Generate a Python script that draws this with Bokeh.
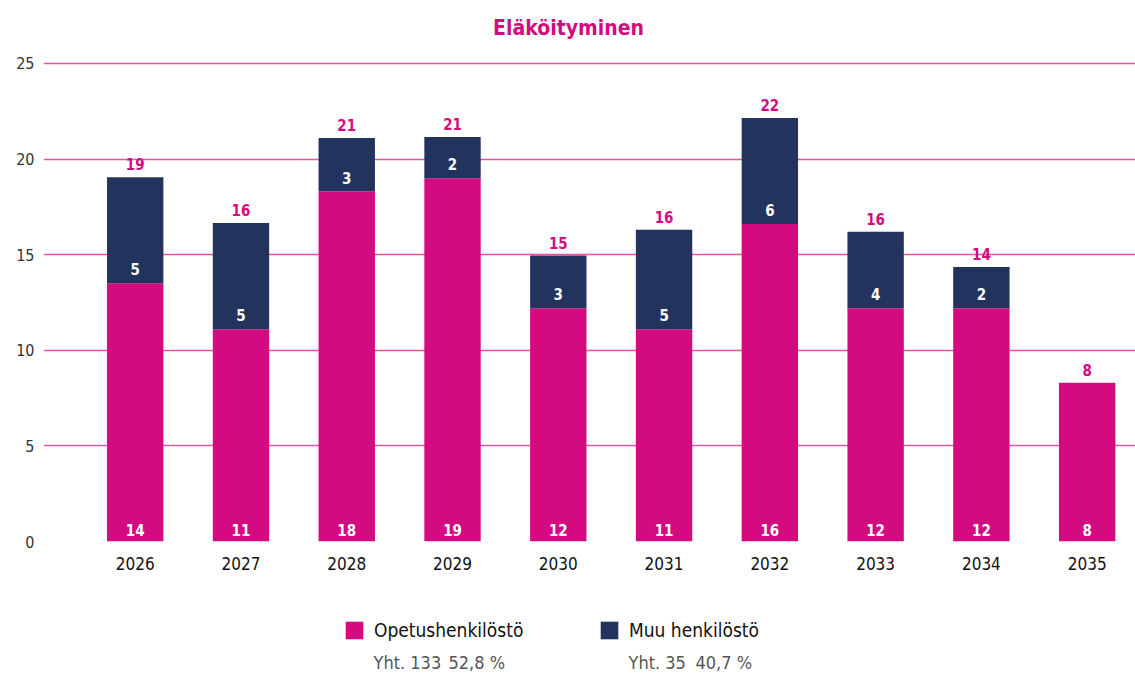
from bokeh.plotting import figure
from bokeh.layouts import column
from bokeh.models import (Range1d, FixedTicker, Legend, LegendItem, Label,
                          ColumnDataSource)
from bokeh.core.properties import value
from bokeh.embed import file_html
from bokeh.resources import INLINE

# ---- data ----
years = ["2026", "2027", "2028", "2029", "2030", "2031", "2032", "2033", "2034", "2035"]
opetus = [13.5, 11.1, 18.3, 19.0, 12.2, 11.1, 16.6, 12.2, 12.2, 8.3]
muu = [5.55, 5.55, 2.8, 2.15, 2.75, 5.2, 5.55, 4.0, 2.15, 0.0]
opetus_labels = ["14", "11", "18", "19", "12", "11", "16", "12", "12", "8"]
muu_labels = ["5", "5", "3", "2", "3", "5", "6", "4", "2", ""]
total_labels = ["19", "16", "21", "21", "15", "16", "22", "16", "14", "8"]
y_ticks = [0, 5, 10, 15, 20, 25]
legend_names = ["Opetushenkilöstö", "Muu henkilöstö"]
legend_sub_count = ["Yht. 133", "Yht. 35"]
legend_sub_pct = ["52,8 %", "40,7 %"]
title_text = "Eläköityminen"

PINK = "#d40b80"
NAVY = "#22335e"
GRID = "#e2559f"
FONT = "DejaVu Sans Condensed"


def blank_strip(height):
    f = figure(width=1135, height=height, output_backend="svg", toolbar_location=None,
               x_range=Range1d(0, 1), y_range=Range1d(0, 1),
               min_border_left=43, min_border_right=0, min_border_top=0,
               min_border_bottom=0, outline_line_color=None,
               x_axis_type=None, y_axis_type=None)
    f.xgrid.grid_line_color = None
    f.ygrid.grid_line_color = None
    return f


# ---- title strip ----
TITLE_H = 42
title_fig = blank_strip(TITLE_H)
title_fig.add_layout(Label(x=525, y=TITLE_H - 27, x_units="screen", y_units="screen",
                           text=title_text, text_color=PINK, text_font=FONT,
                           text_font_size="21px", text_font_style="bold",
                           text_align="center", text_baseline="middle"))

# ---- main chart ----
xs = list(range(len(years)))
totals = [a + b for a, b in zip(opetus, muu)]
src = ColumnDataSource(dict(x=xs, opetus=opetus, muu=muu, total=totals,
                            ol=opetus_labels, ml=muu_labels, tl=total_labels,
                            zero=[0] * len(xs)))

p = figure(width=1135, height=575 - TITLE_H, output_backend="svg", toolbar_location=None,
           x_range=Range1d(-0.867, 9.457), y_range=Range1d(0, 25.1),
           min_border_left=43, min_border_right=0, min_border_top=61 - TITLE_H,
           min_border_bottom=34, outline_line_color=None)

rs = p.vbar_stack(["opetus", "muu"], x="x", width=0.533, source=src,
                  color=[PINK, NAVY], line_color=None)

p.text(x="x", y="zero", text="ol", source=src, y_offset=-12,
       text_align="center", text_baseline="middle", text_color="white",
       text_font=value(FONT), text_font_size="15px", text_font_style="bold")
p.text(x="x", y="opetus", text="ml", source=src, y_offset=-14,
       text_align="center", text_baseline="middle", text_color="white",
       text_font=value(FONT), text_font_size="15px", text_font_style="bold")
p.text(x="x", y="total", text="tl", source=src, y_offset=-13,
       text_align="center", text_baseline="middle", text_color=PINK,
       text_font=value(FONT), text_font_size="15px", text_font_style="bold")

p.xaxis.ticker = FixedTicker(ticks=xs)
p.xaxis.major_label_overrides = {i: y for i, y in enumerate(years)}
p.xaxis.axis_line_color = None
p.xaxis.major_tick_line_color = None
p.xaxis.minor_tick_line_color = None
p.xaxis.major_label_text_font = FONT
p.xaxis.major_label_text_font_size = "17px"
p.xaxis.major_label_text_color = "#111111"
p.xaxis.major_label_standoff = 9

p.yaxis.ticker = FixedTicker(ticks=y_ticks)
p.yaxis.axis_line_color = None
p.yaxis.major_tick_line_color = None
p.yaxis.minor_tick_line_color = None
p.yaxis.major_label_text_font = FONT
p.yaxis.major_label_text_font_size = "16px"
p.yaxis.major_label_text_color = "#333333"
p.yaxis.major_label_standoff = 3

p.xgrid.grid_line_color = None
p.ygrid.ticker = FixedTicker(ticks=y_ticks)
p.ygrid.grid_line_color = GRID
p.ygrid.grid_line_width = 1.5

# ---- legend strip ----
lg_fig = blank_strip(100)
proxy = ColumnDataSource(dict(x=[5], top=[0.5]))  # outside the visible range
for name, color, xloc in zip(legend_names, [PINK, NAVY], [300, 555]):
    r = lg_fig.vbar(x="x", top="top", width=0.1, source=proxy, color=color, line_color=None)
    lg = Legend(items=[LegendItem(label=name, renderers=[r])], location=(xloc, 34),
                orientation="horizontal", padding=0, margin=0, glyph_width=22,
                glyph_height=22, label_standoff=9, label_text_font=FONT,
                label_text_font_size="19px", label_text_color="#111111",
                border_line_color=None, background_fill_alpha=0)
    lg_fig.add_layout(lg, "center")

for cnt, pct, xc, xp in zip(legend_sub_count, legend_sub_pct, [330, 585], [405, 652]):
    lg_fig.add_layout(Label(x=xc, y=13, x_units="screen", y_units="screen", text=cnt,
                            text_font=FONT, text_font_size="18px", text_color="#555555",
                            text_baseline="middle"))
    lg_fig.add_layout(Label(x=xp, y=13, x_units="screen", y_units="screen", text=pct,
                            text_font=FONT, text_font_size="18px", text_color="#555555",
                            text_baseline="middle"))

layout = column(title_fig, p, lg_fig, spacing=0)
open("out.html", "w").write(file_html(layout, INLINE))
